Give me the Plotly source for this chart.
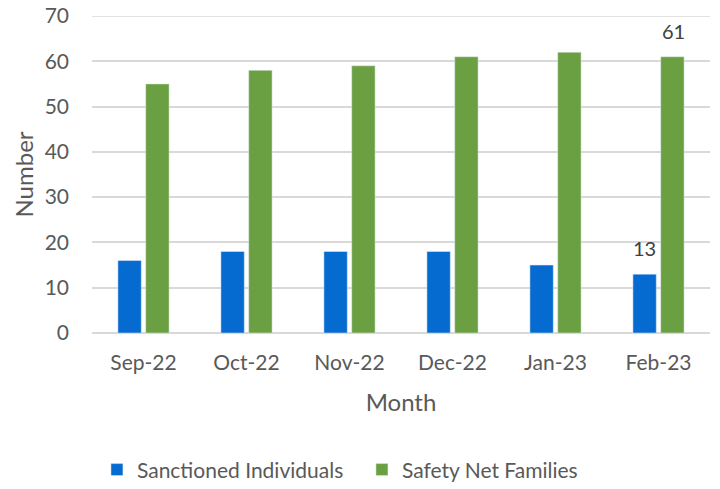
import plotly.graph_objects as go

months = ["Sep-22", "Oct-22", "Nov-22", "Dec-22", "Jan-23", "Feb-23"]
sanctioned = [16, 18, 18, 18, 15, 13]
safety_net = [55, 58, 59, 61, 62, 61]
y_max = 70

font_color = "#595959"
grid_color = "#d9d9d9"

fig = go.Figure()
fig.add_trace(go.Bar(x=months, y=sanctioned, name="Sanctioned Individuals",
                     marker_color="#066BD0"))
fig.add_trace(go.Bar(x=months, y=safety_net, name="Safety Net Families",
                     marker_color="#6A9F42"))

# data labels only on the last month, like the original
for vals, shift in [(sanctioned, -14.5), (safety_net, 14.5)]:
    fig.add_annotation(x=months[-1], y=vals[-1], text=str(vals[-1]),
                       showarrow=False, xshift=shift, yshift=26,
                       font=dict(size=20, color="#404040"))

# plotly drops the gridline sitting on the top edge, so draw it by hand
fig.add_hline(y=y_max, line=dict(color=grid_color, width=1.5), layer="below")

fig.update_layout(
    width=720, height=489,
    barmode="group", bargap=0.46, bargroupgap=0.16,
    plot_bgcolor="white", paper_bgcolor="white",
    font=dict(family="Lato, Open Sans, sans-serif", size=21, color=font_color),
    margin=dict(l=92, r=10, t=16, b=156, autoexpand=False),
    showlegend=True,
    legend=dict(orientation="h", x=0.008, xanchor="left", y=-0.432, yanchor="middle",
                font=dict(size=21), traceorder="normal",
                entrywidth=220, entrywidthmode="pixels"),
)
fig.update_xaxes(title=dict(text="Month", font=dict(size=24), standoff=20),
                 showgrid=False, ticks="", showline=True, linecolor=grid_color,
                 ticklabelstandoff=11, automargin=False)
fig.update_yaxes(title=dict(text="Number", font=dict(size=24), standoff=4),
                 range=[0, y_max], dtick=10, showgrid=True, gridcolor=grid_color,
                 gridwidth=1.5, zeroline=True, zerolinecolor=grid_color,
                 ticklabelstandoff=22, automargin=False)

# drop the browser's default 8px body margin so the figure fills the window
fig.write_html("out.html", config={"displayModeBar": False},
               post_script="document.body.style.margin = '0';")
